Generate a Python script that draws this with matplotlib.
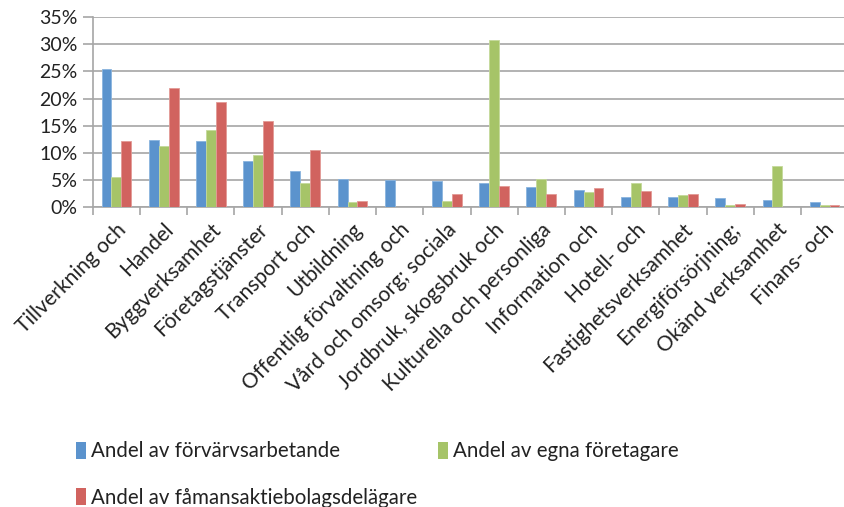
import matplotlib
matplotlib.use("Agg")
import matplotlib.pyplot as plt
import numpy as np
from matplotlib.patches import Patch

categories = ["Tillverkning och", "Handel", "Byggverksamhet", "Företagstjänster",
              "Transport och", "Utbildning", "Offentlig förvaltning och",
              "Vård och omsorg; sociala", "Jordbruk, skogsbruk och",
              "Kulturella och personliga", "Information och", "Hotell- och",
              "Fastighetsverksamhet", "Energiförsörjning;", "Okänd verksamhet",
              "Finans- och"]
forvarvsarbetande = [25.4, 12.4, 12.1, 8.5, 6.7, 5.2, 5.0, 4.7, 4.4, 3.6, 3.1, 1.8, 1.8, 1.6, 1.3, 0.9]
egna_foretagare = [5.5, 11.3, 14.2, 9.6, 4.4, 0.9, 0.0, 1.1, 30.8, 5.2, 2.7, 4.4, 2.1, 0.3, 7.5, 0.3]
famansdelagare = [12.1, 22.0, 19.3, 15.9, 10.5, 1.1, 0.0, 2.4, 3.9, 2.4, 3.4, 2.9, 2.4, 0.6, 0.0, 0.3]
series_names = ["Andel av förvärvsarbetande", "Andel av egna företagare",
                "Andel av fåmansaktiebolagsdelägare"]
yticks = [0, 5, 10, 15, 20, 25, 30, 35]

colors = ["#5B93CD", "#A6C468", "#D1635F"]
edges = ["#8AB4DE", "#C4D99A", "#E39A96"]

plt.rcParams['font.family'] = ['Lato', 'DejaVu Sans']

fig = plt.figure(figsize=(8.44, 5.07), dpi=100)
renderer = fig.canvas.get_renderer()


def fit_size(text, target_px, base=15.0):
    t = fig.text(0, 0, text, fontsize=base)
    wpx = t.get_window_extent(renderer).width
    t.remove()
    return base * target_px / wpx


label_fs = fit_size("Offentlig förvaltning och", 228)
legend_fs = fit_size("Andel av förvärvsarbetande", 250)

ax = fig.add_axes([0.110, 0.592, 0.895, 0.374])

x = np.arange(len(categories))
w = 0.21
for i, vals in enumerate([forvarvsarbetande, egna_foretagare, famansdelagare]):
    ax.bar(x + (i - 1) * w, np.array(vals) / 100, width=w, color=colors[i],
           edgecolor=edges[i], linewidth=0.6, zorder=3, label=series_names[i])

ax.set_xlim(-0.5, len(categories) - 0.5)
ax.set_ylim(0, 0.35)
ax.set_yticks([v / 100 for v in yticks])
ax.set_yticklabels([f"{v}%" for v in yticks], fontsize=14, color="#222222")
ax.grid(axis='y', color="#A6A6A6", linewidth=1.2, zorder=0)
ax.tick_params(axis='y', length=7, color="#A6A6A6", width=1.2, pad=4)

ax.set_xticks(x)
ax.set_xticklabels([])
ax.tick_params(axis='x', which='major', length=0)
ax.set_xticks(np.arange(len(categories) + 1) - 0.5, minor=True)
ax.tick_params(axis='x', which='minor', length=6, color="#A6A6A6", width=1.2)

for s in ['top', 'right']:
    ax.spines[s].set_visible(False)
for s in ['left', 'bottom']:
    ax.spines[s].set_color("#A6A6A6")
    ax.spines[s].set_linewidth(1.2)

for xi, lab in zip(x, categories):
    ax.annotate(lab, xy=(xi, 0), xycoords=('data', 'axes fraction'),
                xytext=(10, -9), textcoords='offset points',
                rotation=45, ha='right', va='top', fontsize=label_fs, color="#222222")

order = [0, 2, 1]
handles = [Patch(facecolor=colors[i], edgecolor='none') for i in order]
labels = [series_names[i] for i in order]
leg = fig.legend(handles, labels, loc='upper left', bbox_to_anchor=(0.068, 0.166),
                 ncol=2, frameon=False, fontsize=legend_fs, handlelength=0.5, handleheight=0.9,
                 handletextpad=0.25, columnspacing=1.0, labelspacing=1.3)
for t in leg.get_texts():
    t.set_color("#222222")

fig.savefig("out.png", dpi=100)
